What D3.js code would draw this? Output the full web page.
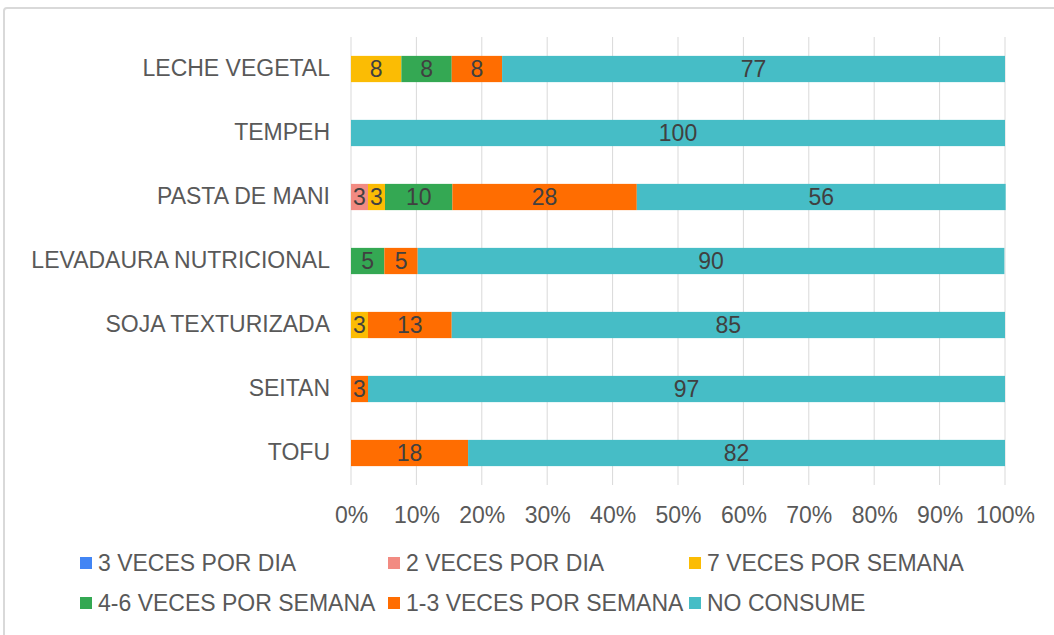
<!DOCTYPE html>
<html>
<head>
<meta charset="utf-8">
<script src="https://cdn.jsdelivr.net/npm/d3@7"></script>
<style>
  body { margin: 0; background: #fff; }
  svg { font-family: "Liberation Sans", Arial, sans-serif; }
</style>
</head>
<body>
<svg id="chart" width="1054" height="635"></svg>
<script>
// categories, top to bottom
var categories = ["LECHE VEGETAL", "TEMPEH", "PASTA DE MANI", "LEVADAURA NUTRICIONAL",
                  "SOJA TEXTURIZADA", "SEITAN", "TOFU"];

// series names (stack order left to right)
var seriesNames = ["3 VECES POR DIA", "2 VECES POR DIA", "7 VECES POR SEMANA",
                   "4-6 VECES POR SEMANA", "1-3 VECES POR SEMANA", "NO CONSUME"];
var seriesColors = ["#4285f4", "#f28b82", "#fbbc04", "#34a853", "#ff6d01", "#46bdc6"];

// percentages per category (same order as categories)
var tresDia     = [0, 0, 0, 0, 0, 0, 0];
var dosDia      = [0, 0, 2.6, 0, 0, 0, 0];
var sieteSemana = [7.7, 0, 2.6, 0, 2.6, 0, 0];
var cuatroSeis  = [7.7, 0, 10.3, 5.1, 0, 0, 0];
var unoTres     = [7.7, 0, 28.2, 5.1, 12.8, 2.6, 17.9];
var noConsume   = [76.9, 100, 56.4, 89.7, 84.6, 97.4, 82.1];

var xTicks = [0, 10, 20, 30, 40, 50, 60, 70, 80, 90, 100];

var seriesValues = [tresDia, dosDia, sieteSemana, cuatroSeis, unoTres, noConsume];

// build table rows for d3.stack
var rows = categories.map(function(c, i) {
  var r = {cat: c};
  seriesNames.forEach(function(s, j) { r[s] = seriesValues[j][i]; });
  return r;
});

var fontSize = "23px";
var margin = {top: 37, left: 351, right: 49, bottom: 150};
var svg = d3.select("#chart");
var width = 1054 - margin.left - margin.right,
    height = 635 - margin.top - margin.bottom;

// outer chart border
svg.append("rect")
    .attr("x", 4).attr("y", 8)
    .attr("width", 1060).attr("height", 640)
    .attr("rx", 3)
    .attr("fill", "none")
    .attr("stroke", "#d9d9d9")
    .attr("stroke-width", 2);

var g = svg.append("g")
    .attr("transform", "translate(" + margin.left + "," + margin.top + ")");

var x = d3.scaleLinear().domain([0, 100]).range([0, width]);
var y = d3.scaleBand().domain(categories).range([0, height]).paddingInner(0.59).paddingOuter(0.295);

// gridlines
g.selectAll(".grid")
    .data(xTicks)
  .enter().append("line")
    .attr("x1", function(d) { return x(d); })
    .attr("x2", function(d) { return x(d); })
    .attr("y1", 0).attr("y2", height)
    .attr("stroke", "#d9d9d9")
    .attr("stroke-width", 1);

var stack = d3.stack().keys(seriesNames);
var stacked = stack(rows);

var layer = g.selectAll(".layer")
    .data(stacked)
  .enter().append("g")
    .attr("fill", function(d, i) { return seriesColors[i]; });

layer.selectAll("rect")
    .data(function(d) { return d; })
  .enter().append("rect")
    .attr("x", function(d) { return x(d[0]); })
    .attr("y", function(d) { return y(d.data.cat); })
    .attr("width", function(d) { return x(d[1]) - x(d[0]); })
    .attr("height", y.bandwidth());

// data labels
layer.selectAll("text")
    .data(function(d) { return d.filter(function(e) { return e[1] - e[0] > 0; }); })
  .enter().append("text")
    .attr("x", function(d) { return (x(d[0]) + x(d[1])) / 2; })
    .attr("y", function(d) { return y(d.data.cat) + y.bandwidth() / 2; })
    .attr("dy", "0.36em")
    .attr("text-anchor", "middle")
    .attr("fill", "#404040")
    .style("font-size", fontSize)
    .text(function(d) { return Math.round(d[1] - d[0]); });

// y axis labels
var yAxis = g.append("g")
    .call(d3.axisLeft(y).tickSize(0).tickPadding(21));
yAxis.select(".domain").remove();
yAxis.selectAll("text")
    .attr("fill", "#595959")
    .style("font-size", fontSize)
    .style("font-family", "'Liberation Sans', Arial, sans-serif");

// x axis
var xAxis = g.append("g")
    .attr("transform", "translate(0," + height + ")")
    .call(d3.axisBottom(x).tickValues(xTicks).tickSize(0).tickPadding(22)
      .tickFormat(function(d) { return d + "%"; }));
xAxis.select(".domain").remove();
xAxis.selectAll("text")
    .attr("fill", "#595959")
    .style("font-size", fontSize)
    .style("font-family", "'Liberation Sans', Arial, sans-serif");

// legend
var legendX = [80, 388, 689];
var legendY = [563, 603];
var legend = svg.selectAll(".legend")
    .data(seriesNames)
  .enter().append("g")
    .attr("transform", function(d, i) {
      return "translate(" + legendX[i % 3] + "," + legendY[Math.floor(i / 3)] + ")";
    });
legend.append("rect")
    .attr("x", 0).attr("y", -6)
    .attr("width", 12).attr("height", 12)
    .attr("fill", function(d, i) { return seriesColors[i]; });
legend.append("text")
    .attr("x", 18).attr("y", 0)
    .attr("dy", "0.36em")
    .attr("fill", "#595959")
    .style("font-size", fontSize)
    .text(function(d) { return d; });
</script>
</body>
</html>
